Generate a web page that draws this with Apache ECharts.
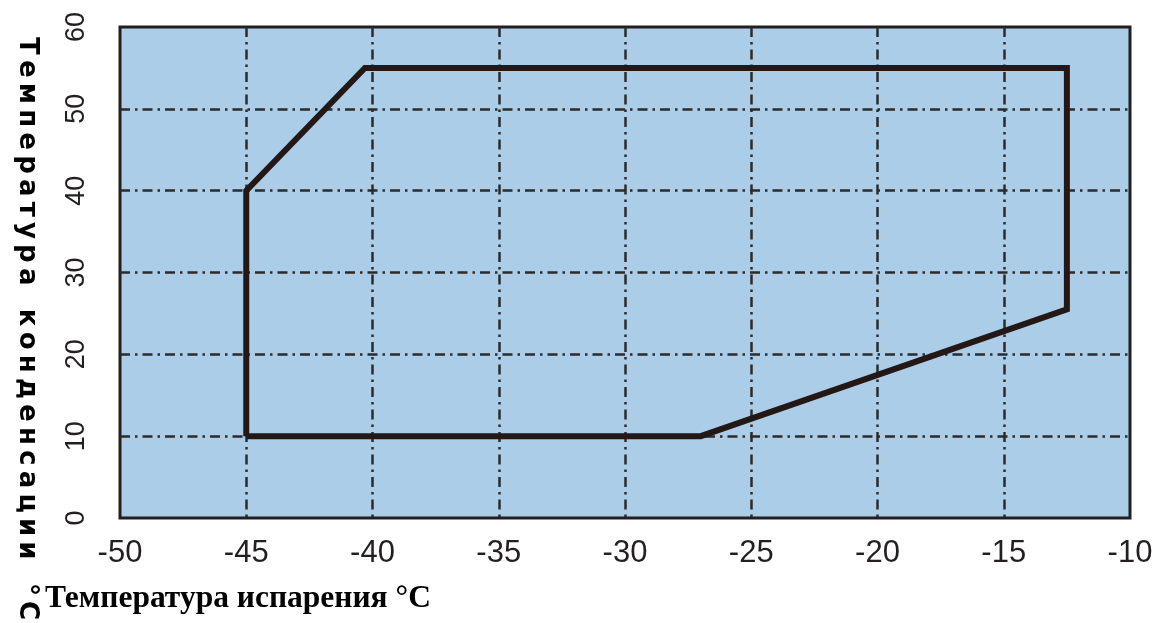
<!DOCTYPE html>
<html>
<head>
<meta charset="utf-8">
<script src="https://cdn.jsdelivr.net/npm/echarts@6/dist/echarts.min.js"></script>
<style>
html,body{margin:0;padding:0;background:#fff;}
#chart{width:1156px;height:623px;}
</style>
</head>
<body>
<div id="chart"></div>
<script>
// Data
const envelopeX = [-45, -45, -40.3, -12.5, -12.5, -27, -45];
const envelopeY = [10, 40, 55, 55, 25.5, 10, 10];
const xTicks = [-50, -45, -40, -35, -30, -25, -20, -15, -10];
const yTicks = [0, 10, 20, 30, 40, 50, 60];
const xTitle = 'Температура испарения °С';
const yTitle = 'Температура конденсации °С';

const points = envelopeX.map((x, i) => [x, envelopeY[i]]);
const spacedY = yTitle.split('').map(c => c === ' ' ? '\u2002' : c).join('\u2009');

const chart = echarts.init(document.getElementById('chart'));
const gridDash = {color: '#2b2b2b', width: 2.5, type: [10, 5, 2.5, 5]};
chart.setOption({
  animation: false,
  grid: {
    left: 120, right: 26, top: 27, bottom: 105,
    show: true, backgroundColor: '#abcde8', borderColor: '#231f20', borderWidth: 3
  },
  xAxis: {
    type: 'value', min: xTicks[0], max: xTicks[xTicks.length - 1], interval: 5,
    axisLine: {show: false}, axisTick: {show: false},
    axisLabel: {color: '#231f20', fontFamily: 'Liberation Sans', fontSize: 31, margin: 20},
    splitLine: {show: true, showMinLine: false, showMaxLine: false, lineStyle: gridDash}
  },
  yAxis: {
    type: 'value', min: yTicks[0], max: yTicks[yTicks.length - 1], interval: 10,
    axisLine: {show: false}, axisTick: {show: false},
    axisLabel: {color: '#231f20', fontFamily: 'Liberation Sans', fontSize: 27, rotate: 90, margin: 30},
    splitLine: {show: true, showMinLine: false, showMaxLine: false, lineStyle: gridDash}
  },
  graphic: [
    {
      type: 'text', x: 45, y: 599,
      style: {text: xTitle, font: 'bold 31.5px "Liberation Serif"', fill: '#000', textVerticalAlign: 'middle', textAlign: 'left'}
    },
    {
      type: 'text', x: 27, y: 37, rotation: -Math.PI / 2,
      style: {text: spacedY, font: 'bold 26px "DejaVu Sans"', fill: '#000', textVerticalAlign: 'middle', textAlign: 'left'}
    }
  ],
  series: [{
    type: 'line', data: points, symbol: 'none',
    lineStyle: {color: '#231815', width: 6, join: 'miter'}
  }]
});
</script>
</body>
</html>
